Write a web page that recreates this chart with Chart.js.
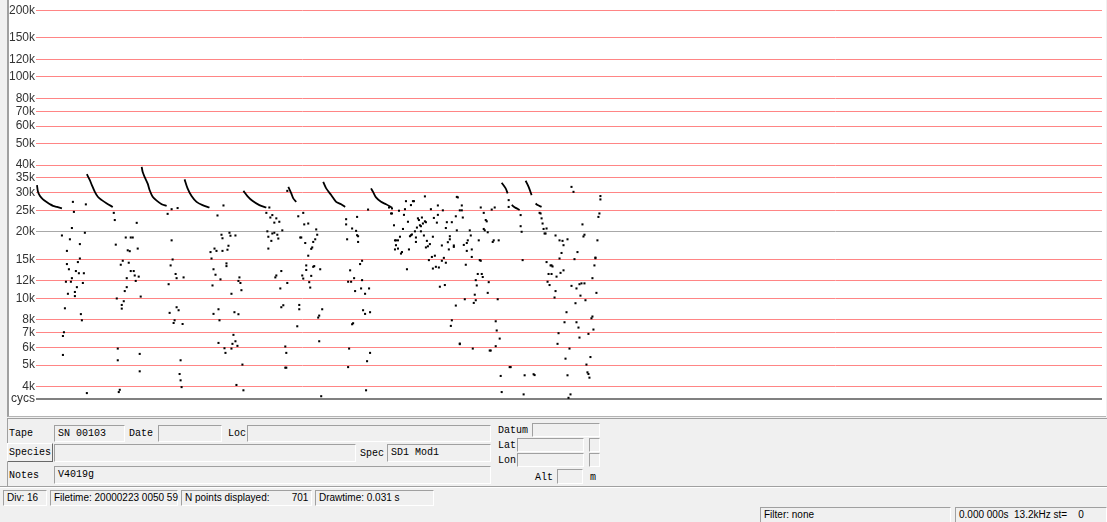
<!DOCTYPE html>
<html>
<head>
<meta charset="utf-8">
<script src="https://cdn.jsdelivr.net/npm/chart.js@4/dist/chart.umd.min.js"></script>
<style>
  body { margin: 0; width: 1107px; height: 522px; background: #f0f0f0; position: relative; overflow: hidden; font-family: 'Liberation Sans', Arial, sans-serif; }
  #frame { position: absolute; left: 7px; top: 0; width: 1099px; height: 417px; background: #fff; border-left: 2px solid #a0a0a0; border-bottom: 1px solid #b4b4b4; box-sizing: border-box; }
  #frame canvas { position: absolute; left: 0; top: 0; }
  .hl { position: absolute; left: 0; width: 1107px; height: 1px; background: #a0a0a0; }
  .lbl { position: absolute; font: 10px 'Liberation Mono', 'DejaVu Sans Mono', monospace; color: #000; white-space: pre; }
  .box { position: absolute; box-sizing: border-box; border: 1px solid; border-color: #a0a0a0 #fff #fff #a0a0a0; background: #f0f0f0;
         font: 10px 'Liberation Mono', 'DejaVu Sans Mono', monospace; padding: 2px 0 0 3px; white-space: pre; }
  .btn { position: absolute; box-sizing: border-box; border: 1px solid; border-color: #fff #696969 #696969 #fff; background: #f0f0f0;
         font: 10px 'Liberation Mono', monospace; text-align: center; padding-top: 3px; }
  .sbox { position: absolute; box-sizing: border-box; height: 16px; border: 1px solid; border-color: #a0a0a0 #fff #fff #a0a0a0;
          font: 10px 'Liberation Sans', Arial, sans-serif; padding: 1px 0 0 3px; white-space: pre; color: #000; }
</style>
</head>
<body>
<div id="frame"><canvas id="sonogram" width="1097" height="416"></canvas></div>

<div class="hl" style="top:418px; left:7px; width:1100px;"></div>
<div style="position:absolute; left:7px; top:418px; width:1px; height:69px; background:#a0a0a0;"></div>

<div class="lbl" style="left:9px; top:428px;">Tape</div>
<div class="box" style="left:54px; top:425px; width:71px; height:17px;">SN 00103</div>
<div class="lbl" style="left:129px; top:428px;">Date</div>
<div class="box" style="left:158px; top:425px; width:64px; height:17px;"></div>
<div class="lbl" style="left:228px; top:428px;">Loc</div>
<div class="box" style="left:247px; top:425px; width:244px; height:17px;"></div>
<div class="lbl" style="left:498px; top:425px;">Datum</div>
<div class="box" style="left:532px; top:423px; width:68px; height:14px;"></div>

<div class="btn" style="left:7px; top:443px; width:46px; height:19px;">Species</div>
<div class="box" style="left:54px; top:444px; width:302px; height:18px;"></div>
<div class="lbl" style="left:360px; top:448px;">Spec</div>
<div class="box" style="left:387px; top:444px; width:104px; height:18px;">SD1 Mod1</div>
<div class="lbl" style="left:498px; top:440px;">Lat</div>
<div class="box" style="left:517px; top:438px; width:67px; height:14px;"></div>
<div class="box" style="left:589px; top:438px; width:11px; height:14px;"></div>
<div class="lbl" style="left:498px; top:455px;">Lon</div>
<div class="box" style="left:517px; top:453px; width:67px; height:14px;"></div>
<div class="box" style="left:589px; top:453px; width:11px; height:14px;"></div>

<div class="lbl" style="left:9px; top:470px;">Notes</div>
<div class="box" style="left:54px; top:466px; width:437px; height:18px;">V4019g</div>
<div class="lbl" style="left:535px; top:472px;">Alt</div>
<div class="box" style="left:557px; top:469px; width:26px; height:15px;"></div>
<div class="lbl" style="left:590px; top:472px;">m</div>

<div class="hl" style="top:486px;"></div>
<div class="hl" style="top:487px; background:#fff;"></div>

<div class="sbox" style="left:3px; top:490px; width:44px;">Div: 16</div>
<div class="sbox" style="left:50px; top:490px; width:128px;">Filetime: 20000223 0050 59</div>
<div class="sbox" style="left:181px; top:490px; width:131px;">N points displayed:        701</div>
<div class="sbox" style="left:315px; top:490px; width:119px;">Drawtime: 0.031 s</div>
<div class="sbox" style="left:760px; top:507px; width:191px;">Filter: none</div>
<div class="sbox" style="left:955px; top:507px; width:152px;">0.000 000s  13.2kHz st=    0</div>

<script>
const timeMin = 0;
const timeMax = 1069;
const freqTicks = [4, 5, 6, 7, 8, 10, 12, 15, 20, 25, 30, 35, 40, 50, 60, 70, 80, 100, 120, 150, 200];
// the display shows 200k 10px below its top edge, at ~221 px per decade
const topLine = { kHz: 200, offset: 10.3, perDecade: 221.5 };

// search-phase calls drawn as continuous traces [t, kHz]
const pulses = [
  [[1,32.5],[2,30.3],[4,29.0],[7,28.0],[11,27.2],[14,26.65],[17,26.2],[21,25.9],[26,25.5]],
  [[51,36.4],[54,34.2],[56,32.5],[59,30.3],[62,28.8],[66,27.8],[71,26.85],[77,25.9]],
  [[106,39.3],[107,37.2],[109,35.3],[112,33.0],[114,30.8],[117,28.8],[121,27.65],[126,26.65],[131,26.15]],
  [[149,34.5],[152,31.4],[156,29.0],[161,27.3],[167,26.4],[174,25.75]],
  [[208,30.6],[212,29.0],[217,27.6],[224,26.4],[231,25.75]],
  [[253,31.9],[256,29.8],[258,28.3],[261,27.3]],
  [[288,33.6],[291,31.4],[296,29.3],[301,27.3],[306,26.65],[310,25.9]],
  [[336,31.4],[338,30.3],[341,28.6],[346,27.3],[351,26.65],[357,25.75]],
  [[467,33.3],[471,31.4],[473,29.8]],
  [[477,26.4],[481,25.65],[485,25.1]],
  [[491,34.0],[494,31.9],[497,29.3]],
  [[501,26.85],[503,26.4],[507,25.9]]
];

// isolated points [t, kHz]
const dots = [
  [37,27.3],[38,24.6],[50,26.6],[36,20.8],[26,19.25],[34,18.5],[49,19.8],[44,17.6],[31,16.4],[44,15.15],[42,14.6],[31,14.3],
  [33,13.55],[40,13.3],[43,13.0],[48,13.0],[36,12.35],[30,11.9],[35,11.9],[47,11.75],[41,11.25],[39,10.7],[32,10.5],[39,10.25],
  [29,9.03],[45,8.5],[46,7.97],[28,7.04],[27,6.77],[27,5.56],[51,3.74],
  [78,24.35],[79,22.6],[101,21.95],[80,17.5],[90,18.85],[95,18.85],[97,18.85],[92,16.5],[94,16.35],[102,16.8],[87,14.8],[85,14.2],
  [93,14.5],[95,13.3],[98,13.3],[99,12.7],[103,12.55],[91,12.35],[100,12.0],[91,11.25],[89,10.8],[81,10.0],[105,10.2],[88,9.72],
  [86,9.35],[86,9.0],[82,5.94],[82,5.26],[104,5.62],[104,4.69],[84,3.87],[83,3.78],
  [136,25.3],[132,24.1],[142,25.6],[136,18.3],[137,15.0],[135,14.1],[140,12.9],[141,12.35],[148,12.45],[133,11.6],[141,9.13],
  [134,8.61],[143,8.85],[139,7.97],[138,7.75],[147,7.67],[145,5.26],[144,4.56],[145,4.27],[146,3.98],
  [188,26.3],[182,23.7],[186,19.4],[187,18.7],[194,19.8],[195,19.2],[200,19.25],[193,17.3],[192,16.6],[179,16.8],[175,16.2],
  [181,16.4],[187,16.4],[176,15.15],[191,14.4],[191,14.0],[178,13.55],[180,12.8],[185,12.2],[177,11.45],[204,12.45],[203,12.0],
  [205,11.75],[196,10.5],[206,10.9],[183,8.94],[178,8.52],[199,8.67],[203,8.49],[184,7.97],[198,6.85],[183,6.3],[200,6.41],
  [197,6.24],[202,6.11],[189,5.96],[196,5.94],[190,5.68],[207,5.03],[201,4.07],[208,3.85],
  [231,24.35],[232,20.1],[233,19.0],[233,16.8],[234,25.75],[235,23.2],[237,23.8],[239,22.0],[241,23.0],[244,22.2],[247,20.3],
  [239,19.8],[237,19.65],[242,19.4],[243,18.65],[236,18.2],[246,13.3],[241,12.7],[240,12.45],[252,11.75],[245,11.1],[248,9.32],
  [246,9.13],[262,7.49],[250,6.07],[251,5.68],[250,4.87],[251,4.87],[252,30.6],
  [263,23.5],[268,24.35],[269,21.6],[273,21.8],[281,20.5],[282,19.4],[265,18.85],[266,18.85],[270,17.8],[280,18.5],[278,18.0],
  [277,17.0],[276,16.75],[273,15.6],[271,14.1],[279,14.0],[278,13.9],[285,13.55],[271,13.45],[267,12.7],[268,12.3],[276,12.65],
  [274,11.85],[275,11.2],[264,9.35],[264,8.94],[287,8.94],[284,8.37],[283,8.2],[284,6.41],[286,3.62],
  [322,23.35],[311,22.8],[311,21.6],[317,20.7],[321,20.2],[322,19.3],[323,19.1],[312,18.5],[323,18.0],[333,25.2],[327,14.8],
  [325,14.3],[315,13.4],[319,12.35],[313,11.9],[316,11.9],[327,12.1],[326,11.1],[334,11.1],[320,10.8],[330,10.5],[328,8.85],
  [330,8.52],[335,8.67],[318,7.73],[317,7.65],[314,5.94],[335,5.68],[332,5.21],[313,4.9],[331,3.85],
  [354,25.75],[357,25.5],[356,24.2],[357,24.2],[359,21.4],[371,27.5],[378,27.5],[379,27.5],[376,26.4],[370,25.3],[364,24.9],
  [369,23.85],[373,22.2],[368,20.6],[380,20.1],[383,23.0],[387,23.2],[384,22.6],[390,22.3],[391,22.1],[388,21.8],[385,21.4],
  [386,21.2],[382,20.9],[386,20.1],[376,19.3],[377,19.45],[375,19.1],[365,19.0],[381,18.85],[389,19.25],[360,18.3],[361,18.3],
  [363,18.3],[381,18.0],[361,17.4],[363,16.8],[360,16.65],[367,16.2],[366,15.95],[374,16.65],
  [390,28.9],[396,25.3],[403,26.3],[403,23.85],[408,25.0],[399,23.1],[402,22.0],[412,22.1],[417,22.1],[411,20.8],[421,23.5],
  [422,28.75],[423,28.6],[425,25.0],[427,25.0],[427,26.3],[428,23.2],[422,20.3],[435,20.3],[398,19.0],[392,18.2],[395,17.6],
  [393,17.2],[391,17.0],[407,17.35],[415,19.1],[415,18.5],[413,17.95],[419,17.35],[419,17.1],[414,16.65],[429,17.45],[432,17.8],
  [433,18.3],[436,19.25],[432,16.4],[437,16.65],[437,15.4],[444,18.3],[400,15.6],[397,15.4],[394,14.9],[409,15.25],[407,14.8],
  [411,14.5],[401,13.9],[404,13.8],[398,13.65],[372,13.55],[431,14.2],[445,14.9],[446,14.8],
  [446,25.75],[449,24.35],[451,22.6],[452,22.3],[449,20.6],[450,20.3],[453,19.9],[457,25.2],[460,25.75],[458,18.0],[459,18.3],
  [464,18.3],[443,12.9],[447,12.9],[448,12.5],[441,12.1],[454,11.85],[442,11.45],[453,10.6],[440,10.4],[430,9.92],[441,9.82],
  [439,9.55],[463,9.92],[405,11.3],[410,11.5],[421,9.29],[417,7.97],[416,7.52],[425,6.26],[425,6.22],[438,5.94],[455,5.82],
  [456,5.82],[461,6.09],[465,6.59],[462,7.17],[461,7.89],[466,4.47],[467,3.78],
  [476,4.9],[475,4.9],[474,27.8],[474,25.9],[486,23.8],[486,21.2],[487,20.0],[488,14.9],[490,4.5],[489,3.69],[499,4.55],
  [500,4.51],[505,24.35],[506,24.2],[507,23.0],[508,21.8],[509,20.6],[512,20.7],[510,19.65],[511,19.65],[521,19.25],[525,18.3],
  [528,18.2],[529,17.4],[533,18.5],[527,16.05],[525,15.15],[512,14.6],[516,14.1],[517,14.1],[518,13.95],[529,13.4],[526,13.05],
  [514,12.9],[517,12.9],[522,12.55],[513,11.9],[515,11.5],[521,10.8],[520,10.1],[537,11.4],[543,16.2],[540,15.05],[542,11.1],
  [545,11.6],[547,11.7],[550,11.7],[548,21.6],[550,19.4],[549,19.05],[546,10.3],[551,9.82],[541,9.52],[532,8.67],[530,7.81],
  [542,7.81],[544,7.39],[545,6.66],[524,6.97],[523,6.24],[535,5.94],[531,5.35],[533,4.5],[536,3.69],[534,3.56],[556,5.44],
  [552,5.03],[553,4.64],[554,4.56],[555,4.39],[554,6.92],[559,7.24],[557,8.14],[558,8.29],[562,10.6],[558,12.35],[560,14.1],
  [561,15.3],[561,15.2],[563,18.3],[564,23.35],[565,24.2],[566,28.0],[566,29.0],[537,31.9],[539,30.3]
];

const toPoints = arr => arr.map(p => ({ x: p[0], y: p[1] }));

const datasets = pulses.map(p => ({
  data: toPoints(p),
  showLine: true,
  borderColor: '#000',
  borderWidth: 1.8,
  pointRadius: 0,
  tension: 0.3
}));

datasets.push({
  data: toPoints(dots),
  showLine: false,
  pointStyle: 'rect',
  pointRadius: 1.45,
  borderWidth: 0,
  backgroundColor: '#000'
});

const chart = new Chart(document.getElementById('sonogram'), {
  type: 'scatter',
  data: { datasets: datasets },
  options: {
    responsive: false,
    animation: false,
    devicePixelRatio: 1,
    layout: { padding: { left: 0, top: 0, right: 1, bottom: 17 } },
    plugins: { legend: { display: false }, tooltip: { enabled: false } },
    scales: {
      x: {
        type: 'linear',
        min: timeMin,
        max: timeMax,
        display: false
      },
      y: {
        type: 'logarithmic',
        min: 3.516,
        max: 222.7,
        afterBuildTicks: scale => {
          scale.ticks = [scale.min].concat(freqTicks).map(v => ({ value: v }));
        },
        afterFit: scale => {
          scale.width = 27;
          scale.paddingTop = 0;
          scale.paddingBottom = 0;
        },
        border: { display: false },
        grid: {
          drawTicks: false,
          color: ctx => {
            if (ctx.tick.value === ctx.scale.min) return '#808080';
            if (ctx.tick.value === 20) return '#a8a8a8';
            return '#ff8585';
          },
          lineWidth: ctx => (ctx.tick.value === ctx.scale.min ? 2 : 1)
        },
        ticks: {
          autoSkip: false,
          padding: 1,
          color: '#333',
          font: { family: 'Liberation Sans', size: 12 },
          callback: function (v) { return v === this.min ? 'cycs' : v + 'k'; }
        }
      }
    }
  }
});

// match the display's frequency scale to wherever the chart area ended up
const area = chart.chartArea;
const logTop = Math.log10(topLine.kHz);
chart.options.scales.y.max = Math.pow(10, logTop + (topLine.offset - area.top) / topLine.perDecade);
chart.options.scales.y.min = Math.pow(10, logTop - (area.bottom - topLine.offset) / topLine.perDecade);
chart.update();
</script>
</body>
</html>
